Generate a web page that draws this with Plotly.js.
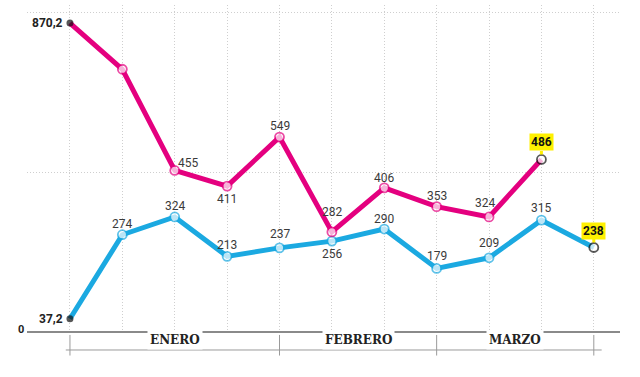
<!DOCTYPE html>
<html>
<head>
<meta charset="utf-8">
<script src="https://cdn.plot.ly/plotly-3.0.1.min.js"></script>
<style>html,body{margin:0;padding:0;background:#fff;}#chart{width:640px;height:377px;}</style>
</head>
<body>
<div id="chart"></div>
<script>
// ---- data ----
const pinkValues = [870.2, 740, 455, 411, 549, 282, 406, 353, 324, 486];
const blueValues = [37.2, 274, 324, 213, 237, 256, 290, 179, 209, 315, 238];
const monthNames = ['ENERO', 'FEBRERO', 'MARZO'];
const monthBounds = [0, 4, 7, 10];
const gridValues = [0, 450, 900];

// ---- styling / label placement ----
const PINK = '#e4007f', BLUE = '#1ba9e1', YELLOW = '#fff000';
const pinkLabelShift = [null, 'none', [13, 7], [0, -13], [0, 11], [0, 20], [0, 10], [0, 11], [-4, 14], 'last'];
const blueLabelShift = [null, [0, 11], [0, 11], [0, 11], [0, 14], [0, -13], [0, 10], [0, 12], [0, 15], [0, 12], 'last'];

function fmt(v) { return String(v).replace('.', ','); }

function markerStyle(vals, color) {
  const n = vals.length;
  return {
    size: vals.map((v, i) => i === 0 ? 7 : 9),
    color: vals.map((v, i) => i === 0 ? '#111' : '#fff'),
    line: {
      color: vals.map((v, i) => (i === 0 || i === n - 1) ? '#111' : color),
      width: vals.map((v, i) => i === 0 ? 0 : 1.8)
    }
  };
}

const pinkX = pinkValues.map((v, i) => i);
const blueX = blueValues.map((v, i) => i);

const traces = [
  { x: blueX, y: blueValues, type: 'scatter', mode: 'lines+markers',
    line: { color: BLUE, width: 5 }, marker: markerStyle(blueValues, BLUE), hoverinfo: 'none' },
  { x: pinkX, y: pinkValues, type: 'scatter', mode: 'lines+markers',
    line: { color: PINK, width: 5 }, marker: markerStyle(pinkValues, PINK), hoverinfo: 'none' }
];

const annotations = [];
function addLabels(vals, shifts) {
  vals.forEach((v, i) => {
    const s = shifts[i];
    if (s === 'none') return;
    if (s === null) {
      annotations.push({ x: i, y: v, xref: 'x', yref: 'y', text: '<b>' + fmt(v) + '</b>', showarrow: false,
        xanchor: 'right', xshift: -5, yshift: 0,
        font: { family: 'Roboto, Arial, sans-serif', size: 12, color: '#222' } });
    } else if (s === 'last') {
      annotations.push({ x: i, y: v, xref: 'x', yref: 'y', text: '<b>' + fmt(v) + '</b>',
        showarrow: true, ax: 0, ay: -17, arrowcolor: YELLOW, arrowhead: 0, arrowwidth: 3, standoff: 5,
        bgcolor: YELLOW, borderpad: 1,
        font: { family: 'Roboto, Arial, sans-serif', size: 12, color: '#111' } });
    } else {
      annotations.push({ x: i, y: v, xref: 'x', yref: 'y', text: fmt(v), showarrow: false,
        xshift: s[0], yshift: s[1],
        font: { family: 'Roboto, Arial, sans-serif', size: 12, color: '#3a3a3a' } });
    }
  });
}
addLabels(pinkValues, pinkLabelShift);
addLabels(blueValues, blueLabelShift);

annotations.push({ x: 0, y: 0, xref: 'paper', yref: 'y', text: '<b>0</b>', showarrow: false,
  xanchor: 'right', xshift: -1, yshift: 3,
  font: { family: 'Roboto, Arial, sans-serif', size: 11, color: '#222' } });

const shapes = [];
const axisY = -0.055;
shapes.push({ type: 'line', xref: 'x', yref: 'paper', x0: monthBounds[0] - 0.08, x1: monthBounds[monthBounds.length - 1] + 0.15,
  y0: axisY, y1: axisY, line: { color: '#9a9a9a', width: 1 } });
monthBounds.forEach(b => {
  shapes.push({ type: 'line', xref: 'x', yref: 'paper', x0: b, x1: b, y0: -0.009, y1: -0.072,
    line: { color: '#9a9a9a', width: 1 } });
});
monthNames.forEach((m, k) => {
  annotations.push({ x: (monthBounds[k] + monthBounds[k + 1]) / 2, y: axisY, xref: 'x', yref: 'paper',
    text: '<b>' + m + '</b>', showarrow: false, bgcolor: '#fff', borderpad: 2,
    font: { family: '"DejaVu Serif", serif', size: 12, color: '#222' } });
});

const layout = {
  width: 640, height: 377,
  margin: { l: 27, r: 20, t: 5, b: 45, pad: 0 },
  paper_bgcolor: '#fff', plot_bgcolor: '#fff',
  showlegend: false,
  xaxis: { range: [-0.82, 10.5], tickmode: 'array', tickvals: blueX, showticklabels: false,
    showgrid: true, gridcolor: '#cfcfcf', griddash: '1px,2px', gridwidth: 1, zeroline: false, showline: false, ticks: '' },
  yaxis: { range: [0, 921], tickmode: 'array', tickvals: gridValues, showticklabels: false,
    showgrid: true, gridcolor: '#cfcfcf', griddash: '1px,2px', gridwidth: 1,
    zeroline: true, zerolinecolor: '#8a8a8a', zerolinewidth: 2, showline: false, ticks: '' },
  annotations: annotations,
  shapes: shapes
};

Plotly.newPlot('chart', traces, layout, { staticPlot: true, displayModeBar: false });
</script>
</body>
</html>
